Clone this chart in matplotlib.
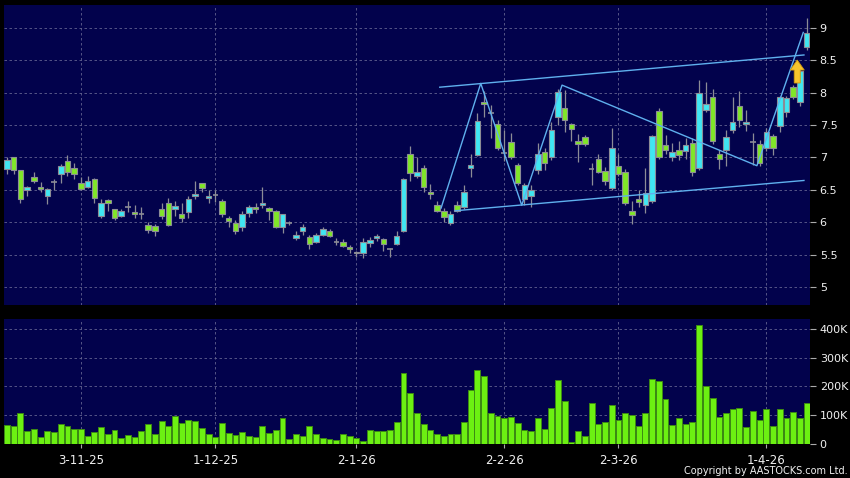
import matplotlib
matplotlib.use("Agg")
import matplotlib.pyplot as plt
from matplotlib.patches import FancyArrow

# daily OHLC (oldest first)
opens = [6.82, 7.00, 6.80, 6.49, 6.70, 6.54, 6.40, 6.62, 6.74, 6.94,
         6.84, 6.60, 6.55, 6.67, 6.10, 6.34, 6.20, 6.10, 6.23, 6.16,
         6.13, 5.95, 5.94, 6.20, 6.29, 6.20, 6.13, 6.16, 6.40, 6.60,
         6.37, 6.42, 6.32, 6.07, 5.98, 5.92, 6.14, 6.23, 6.26, 6.22,
         6.17, 5.92, 5.99, 5.75, 5.86, 5.77, 5.69, 5.80, 5.87, 5.70,
         5.69, 5.62, 5.54, 5.52, 5.68, 5.75, 5.74, 5.59, 5.67, 5.86,
         7.05, 6.72, 6.83, 6.46, 6.26, 6.17, 5.99, 6.26, 6.23, 6.83,
         7.04, 7.85, 7.68, 7.51, 7.07, 7.24, 6.88, 6.36, 6.40, 6.81,
         7.08, 7.00, 7.62, 7.76, 7.52, 7.25, 7.31, 6.82, 6.97, 6.79,
         6.52, 6.86, 6.77, 6.17, 6.36, 6.27, 6.33, 7.72, 7.19, 7.00,
         7.11, 7.10, 7.23, 6.83, 7.73, 7.94, 7.06, 7.12, 7.43, 7.80,
         7.52, 7.24, 7.21, 7.14, 7.33, 7.49, 7.70, 8.09, 7.85, 8.70]
highs = [7.00, 7.01, 6.81, 6.56, 6.77, 6.62, 6.52, 6.66, 6.90, 7.04,
         6.91, 6.70, 6.71, 6.68, 6.35, 6.35, 6.21, 6.20, 6.33, 6.27,
         6.23, 6.00, 5.97, 6.30, 6.37, 6.33, 6.29, 6.40, 6.64, 6.61,
         6.49, 6.49, 6.35, 6.10, 6.04, 6.18, 6.27, 6.30, 6.54, 6.24,
         6.19, 6.13, 6.02, 5.87, 5.97, 5.80, 5.83, 5.93, 5.90, 5.75,
         5.74, 5.64, 5.56, 5.76, 5.77, 5.82, 5.76, 5.60, 5.87, 6.68,
         7.17, 7.00, 6.89, 6.59, 6.33, 6.22, 6.17, 6.32, 6.58, 7.05,
         7.68, 8.02, 7.81, 7.58, 7.43, 7.37, 6.92, 6.60, 6.58, 7.22,
         7.15, 7.55, 8.06, 8.04, 7.53, 7.36, 7.35, 6.91, 7.05, 6.85,
         7.45, 7.05, 6.82, 6.33, 6.50, 6.84, 7.35, 7.77, 7.35, 7.22,
         7.25, 7.30, 7.30, 8.20, 8.17, 8.05, 7.12, 7.43, 7.93, 8.03,
         7.73, 7.38, 7.27, 7.45, 7.36, 7.95, 7.95, 8.12, 8.35, 9.15]
lows = [6.74, 6.74, 6.29, 6.40, 6.60, 6.47, 6.28, 6.50, 6.61, 6.72,
        6.67, 6.50, 6.53, 6.30, 6.06, 6.17, 6.03, 6.08, 6.16, 6.07,
        6.05, 5.84, 5.78, 6.05, 5.94, 6.09, 6.00, 6.07, 6.36, 6.46,
        6.30, 6.31, 6.08, 5.92, 5.82, 5.87, 6.08, 6.14, 6.22, 6.03,
        5.91, 5.84, 5.96, 5.72, 5.80, 5.59, 5.68, 5.78, 5.77, 5.64,
        5.61, 5.52, 5.46, 5.45, 5.61, 5.71, 5.55, 5.46, 5.65, 5.85,
        6.63, 6.68, 6.46, 6.35, 6.16, 6.01, 5.95, 6.15, 6.21, 6.69,
        7.02, 7.63, 7.30, 7.12, 6.94, 6.98, 6.58, 6.27, 6.23, 6.75,
        6.81, 6.96, 7.50, 7.39, 7.26, 6.93, 7.18, 6.57, 6.76, 6.58,
        6.50, 6.72, 6.26, 5.97, 6.24, 6.14, 6.30, 6.98, 7.05, 6.95,
        6.96, 6.98, 6.72, 6.80, 7.70, 7.20, 6.82, 6.86, 7.38, 7.47,
        7.41, 6.89, 6.86, 7.10, 7.04, 7.40, 7.63, 7.90, 7.80, 8.66]
closes = [6.96, 6.81, 6.36, 6.54, 6.63, 6.51, 6.51, 6.62, 6.87, 6.78,
          6.75, 6.51, 6.64, 6.37, 6.29, 6.30, 6.07, 6.18, 6.23, 6.12,
          6.13, 5.88, 5.86, 6.10, 5.95, 6.25, 6.06, 6.36, 6.44, 6.53,
          6.40, 6.42, 6.12, 6.02, 5.86, 6.13, 6.23, 6.20, 6.29, 6.17,
          5.92, 6.12, 5.99, 5.80, 5.92, 5.67, 5.80, 5.89, 5.79, 5.70,
          5.63, 5.59, 5.52, 5.69, 5.72, 5.79, 5.66, 5.59, 5.79, 6.67,
          6.76, 6.78, 6.54, 6.43, 6.17, 6.08, 6.12, 6.17, 6.46, 6.89,
          7.56, 7.82, 7.68, 7.15, 7.07, 7.00, 6.60, 6.58, 6.50, 7.05,
          6.91, 7.42, 8.01, 7.58, 7.44, 7.20, 7.20, 6.82, 6.78, 6.63,
          7.14, 6.74, 6.29, 6.11, 6.31, 6.45, 7.33, 7.01, 7.12, 7.08,
          7.03, 7.19, 6.77, 8.00, 7.82, 7.25, 6.97, 7.31, 7.55, 7.58,
          7.55, 7.24, 6.91, 7.40, 7.14, 7.93, 7.92, 7.93, 8.33, 8.92]

# volume in thousands of shares
volumes = [66, 62, 107, 44, 51, 24, 44, 41, 68, 63,
           52, 52, 29, 43, 58, 34, 50, 22, 30, 26,
           45, 68, 36, 80, 61, 96, 73, 84, 79, 57,
           35, 24, 73, 37, 31, 43, 29, 23, 62, 38,
           47, 92, 19, 33, 27, 64, 33, 22, 16, 14,
           33, 29, 21, 10, 49, 44, 44, 47, 75, 245,
           176, 107, 71, 50, 36, 27, 36, 34, 78, 189,
           258, 236, 107, 97, 89, 93, 73, 49, 44, 92,
           51, 124, 222, 150, 6, 44, 28, 142, 71, 75,
           136, 84, 106, 101, 63, 107, 227, 219, 157, 66,
           90, 71, 76, 414, 201, 161, 94, 106, 122, 124,
           59, 113, 82, 121, 61, 121, 89, 110, 92, 142]

# date labels and the bar they sit under
date_labels = ["3-11-25", "1-12-25", "2-1-26", "2-2-26", "2-3-26", "1-4-26"]
date_bars = [11, 31, 52, 74, 91, 113]

price_ticks = [5, 5.5, 6, 6.5, 7, 7.5, 8, 8.5, 9]
price_tick_labels = ["5", "5.5", "6", "6.5", "7", "7.5", "8", "8.5", "9"]
vol_ticks = [0, 100, 200, 300, 400]
vol_tick_labels = ["0", "100K", "200K", "300K", "400K"]

# hand drawn trend lines (bar index, price)
upper_x, upper_y = [64.4, 118.6], [8.085, 8.583]
lower_x, lower_y = [66.7, 118.6], [6.176, 6.644]
zigzag_x = [64.6, 70.5, 76.6, 82.6, 111.6, 118.5]
zigzag_y = [6.218, 8.144, 6.261, 8.117, 6.872, 8.931]

BG = "#02024c"
UP = "#40e6f2"
DOWN = "#80e628"
EDGE = "#8c8c96"
GRID = "#62628f"
LINE = "#5fb0ee"
TXT = "#f0f0f0"

fig = plt.figure(figsize=(8.5, 4.78), dpi=100, facecolor="black")
ax1 = fig.add_axes([3.5 / 850, 1 - 305 / 478, 806.5 / 850, 300 / 478])
ax2 = fig.add_axes([3.5 / 850, 1 - 444 / 478, 806.5 / 850, 125 / 478])

n = len(closes)
xs = list(range(n))

for ax in (ax1, ax2):
    ax.set_facecolor(BG)
    for s in ax.spines.values():
        s.set_visible(False)
    ax.set_xlim(-0.52, n - 0.5)
    ax.yaxis.tick_right()
    ax.tick_params(axis="y", colors="#aaaaaa", labelcolor=TXT, labelsize=8,
                   length=4, width=0.8, pad=3)
    ax.set_xticks(date_bars)
    ax.grid(True, color=GRID, linestyle=(0, (3, 3)), linewidth=0.6)
    ax.set_axisbelow(True)

# candles
body_w = 0.82
for i in xs:
    o, h, l, c = opens[i], highs[i], lows[i], closes[i]
    ax1.vlines(i, l, h, color=EDGE, linewidth=0.9, zorder=2)
    if abs(c - o) < 1e-9:
        ax1.hlines(o, i - body_w / 2, i + body_w / 2, color=EDGE, linewidth=1.2, zorder=3)
    else:
        col = UP if c > o else DOWN
        ax1.bar(i, abs(c - o), bottom=min(o, c), width=body_w, color=col,
                edgecolor=EDGE, linewidth=0.8, zorder=3)

ax1.plot(upper_x, upper_y, color=LINE, linewidth=1.0, zorder=4)
ax1.plot(lower_x, lower_y, color=LINE, linewidth=1.0, zorder=4)
ax1.plot(zigzag_x, zigzag_y, color=LINE, linewidth=1.0, zorder=4)
ax1.add_patch(FancyArrow(117.6, 8.15, 0, 0.355, width=0.9, head_width=2.1,
                         head_length=0.155, length_includes_head=True,
                         facecolor="#f8c42c", edgecolor="#d09a10",
                         linewidth=0.6, zorder=5))

ax1.set_ylim(4.72, 9.355)
ax1.set_yticks(price_ticks)
ax1.set_yticklabels(price_tick_labels)
ax1.tick_params(axis="x", length=0, labelbottom=False)

# volume
ax2.bar(xs, volumes, width=0.88, color="#6cf012", edgecolor="#3d8a14",
        linewidth=0.7, zorder=3)
ax2.set_ylim(0, 434)
ax2.set_yticks(vol_ticks)
ax2.set_yticklabels(vol_tick_labels)
ax2.set_xticklabels(date_labels)
ax2.tick_params(axis="x", colors="#aaaaaa", labelcolor=TXT, labelsize=8.5,
                length=3, width=0.8, pad=4)

fig.text(0.997, 0.004, "Copyright by AASTOCKS.com Ltd.", color=TXT,
         fontsize=7, ha="right", va="bottom")

fig.savefig("out.png", dpi=100, facecolor="black")
